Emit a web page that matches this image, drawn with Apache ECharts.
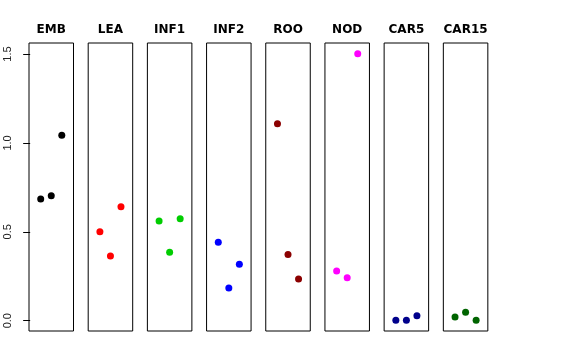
<!DOCTYPE html>
<html>
<head>
<meta charset="utf-8">
<script src="https://cdn.jsdelivr.net/npm/echarts@6/dist/echarts.min.js"></script>
<style>html,body{margin:0;padding:0;background:#fff}#c{width:576px;height:360px}</style>
</head>
<body>
<div id="c"></div>
<script>
const categories = ["EMB","LEA","INF1","INF2","ROO","NOD","CAR5","CAR15"];
const xPositions = [1, 2, 3];
const EMB = [0.684, 0.703, 1.043];
const LEA = [0.500, 0.364, 0.641];
const INF1 = [0.561, 0.385, 0.574];
const INF2 = [0.441, 0.184, 0.317];
const ROO = [1.108, 0.373, 0.235];
const NOD = [0.280, 0.242, 1.502];
const CAR5 = [0.002, 0.002, 0.028];
const CAR15 = [0.021, 0.047, 0.002];
const yTicks = [0, 0.5, 1.0, 1.5];
const yTickLabels = ["0.0", "0.5", "1.0", "1.5"];

const seriesValues = [EMB, LEA, INF1, INF2, ROO, NOD, CAR5, CAR15];
const colors = ["#000000","#FF0000","#00CD00","#0000FF","#8B0000","#FF00FF","#00008B","#006400"];

const font = "'Liberation Sans', Arial, Helvetica, sans-serif";
const titleFont = "'DejaVu Sans', sans-serif";
const L0 = 29, pitch = 59.19, W = 44.5, TOP = 43, H = 288;
const yMin = -0.058, yMax = 1.562;

const grids = [], xAxes = [], yAxes = [], series = [], titles = [];
categories.forEach((cat, i) => {
  const left = L0 + i * pitch;
  grids.push({left: left, top: TOP, width: W, height: H, show: true,
    borderColor: '#000', borderWidth: 1, backgroundColor: 'transparent', containLabel: false});
  xAxes.push({type: 'value', gridIndex: i, min: -0.11, max: 4.11, show: false});
  const ya = {type: 'value', gridIndex: i, min: yMin, max: yMax,
    splitLine: {show: false}, axisLine: {show: false}};
  if (i === 0) {
    ya.axisTick = {show: true, length: 7, customValues: yTicks, lineStyle: {color: '#000', width: 1}};
    ya.axisLabel = {show: true, customValues: yTicks, rotate: 90, margin: 16,
      fontFamily: font, fontSize: 11, color: '#222',
      formatter: v => { const k = yTicks.findIndex(t => Math.abs(t - v) < 1e-9); return k >= 0 ? yTickLabels[k] : ''; }};
  } else {
    ya.axisTick = {show: false};
    ya.axisLabel = {show: false};
  }
  yAxes.push(ya);
  series.push({type: 'scatter', xAxisIndex: i, yAxisIndex: i, symbolSize: 7,
    itemStyle: {color: colors[i], opacity: 1},
    data: seriesValues[i].map((v, k) => [xPositions[k], v]),
    silent: true, animation: false});
  titles.push({text: cat, left: left + W / 2, top: 24, textAlign: 'center', padding: 0,
    textStyle: {fontFamily: titleFont, fontSize: 12, fontWeight: 'bold', color: '#000'}});
});

const chart = echarts.init(document.getElementById('c'), null, {renderer: 'canvas'});
chart.setOption({
  animation: false,
  backgroundColor: '#fff',
  title: titles,
  grid: grids,
  xAxis: xAxes,
  yAxis: yAxes,
  series: series
});
</script>
</body>
</html>
